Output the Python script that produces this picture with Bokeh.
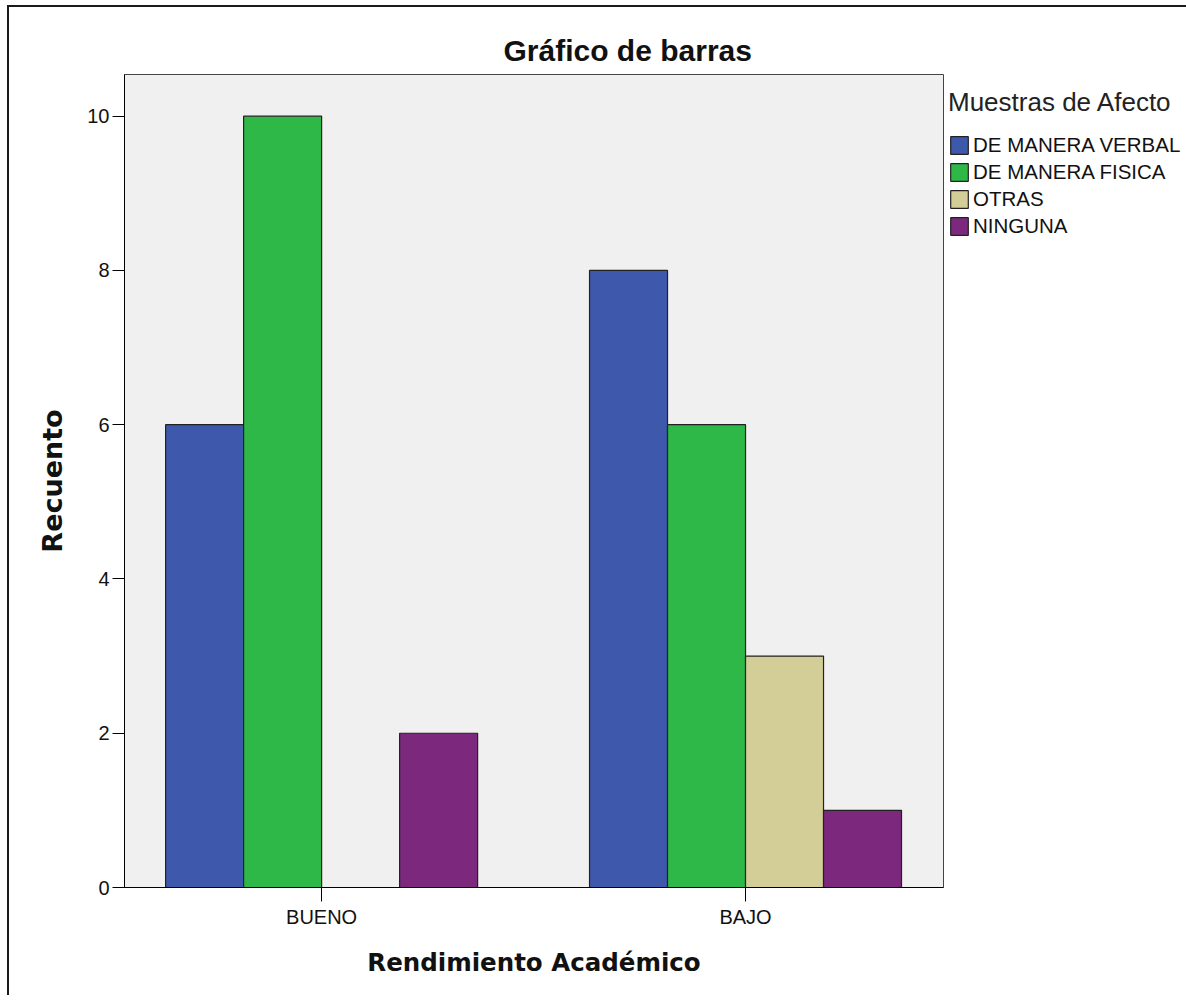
from bokeh.plotting import figure
from bokeh.models import ColumnDataSource, Range1d, FixedTicker, Legend, LegendItem
from bokeh.transform import dodge
from bokeh.embed import file_html
from bokeh.resources import INLINE

# ---- data ----
categories = ["BUENO", "BAJO"]
series_names = ["DE MANERA VERBAL", "DE MANERA FISICA", "OTRAS", "NINGUNA"]
verbal = [6, 8]
fisica = [10, 6]
otras = [0, 3]
ninguna = [2, 1]
colors = ["#3E58AC", "#2EB848", "#D3CE97", "#7B287D"]
y_ticks = [0, 2, 4, 6, 8, 10]

x_pos = list(range(1, len(categories) + 1))
src = ColumnDataSource(dict(x=x_pos, verbal=verbal, fisica=fisica, otras=otras, ninguna=ninguna))
cols = ["verbal", "fisica", "otras", "ninguna"]

FW, FH = 819, 813
BW = 0.184
p = figure(
    frame_width=FW, frame_height=FH,
    x_range=Range1d(0.535, 2.467), y_range=Range1d(0, 10.54),
    output_backend="svg", toolbar_location=None,
    min_border_left=115, min_border_top=67, min_border_bottom=108, min_border_right=0,
    title="Gráfico de barras",
)
p.margin = (5, 0, 0, 7)
p.styles = {"border-left": "2px solid #1a1a1a", "border-top": "2px solid #1a1a1a"}
p.background_fill_color = "#F0F0F0"
p.border_fill_color = "white"
p.outline_line_color = "#444444"
p.outline_line_width = 1
p.xgrid.visible = False
p.ygrid.visible = False

p.title.align = "left"
p.title.offset = 379
p.title.text_font = "Liberation Sans"
p.title.text_font_size = "30px"
p.title.text_font_style = "bold"
p.title.text_color = "#111111"
p.title.standoff = 16

offsets = [-1.5 * BW, -0.5 * BW, 0.5 * BW, 1.5 * BW]
items = []
for col, name, color, off in zip(cols, series_names, colors, offsets):
    r = p.vbar(x=dodge("x", off, range=p.x_range), top=col, width=BW, source=src,
               fill_color=color, line_color="#222222", line_width=1.2)
    items.append(LegendItem(label=name, renderers=[r]))

# axes
p.xaxis.ticker = FixedTicker(ticks=x_pos)
p.xaxis.major_label_overrides = {x: c for x, c in zip(x_pos, categories)}
p.yaxis.ticker = FixedTicker(ticks=y_ticks)
for ax in (p.xaxis[0], p.yaxis[0]):
    ax.axis_line_color = "black"
    ax.major_tick_line_color = "black"
    ax.minor_tick_line_color = None
    ax.major_tick_in = 0
    ax.major_label_text_font = "Liberation Sans"
    ax.major_label_text_font_size = "20px"
    ax.major_label_text_color = "#111111"
    ax.axis_label_text_font = "DejaVu Sans"
    ax.axis_label_text_font_style = "bold"
    ax.axis_label_text_color = "#111111"
p.xaxis.axis_label_text_font_size = "24.5px"
p.yaxis.axis_label_text_font_size = "27px"
p.xaxis.major_tick_out = 14
p.xaxis.major_label_standoff = 4
p.xaxis.axis_label = "Rendimiento Académico"
p.xaxis.axis_label_standoff = 17
p.yaxis.major_tick_out = 12
p.yaxis.major_label_standoff = 3
p.yaxis.axis_label = "Recuento"
p.yaxis.axis_label_standoff = 16

legend = Legend(items=items, location=(5, 649), title="Muestras de Afecto")
legend.title_text_font = "Liberation Sans"
legend.title_text_font_size = "26px"
legend.title_text_font_style = "normal"
legend.title_text_color = "#222222"
legend.title_standoff = 15
legend.label_text_font = "Liberation Sans"
legend.label_text_font_size = "20.5px"
legend.label_text_color = "#111111"
legend.glyph_width = 22
legend.glyph_height = 22
legend.label_height = 22
legend.spacing = 3
legend.label_standoff = 3
legend.padding = 0
legend.margin = 5
legend.border_line_color = None
legend.background_fill_alpha = 0
p.add_layout(legend, "right")

open("out.html", "w").write(file_html(p, INLINE))
